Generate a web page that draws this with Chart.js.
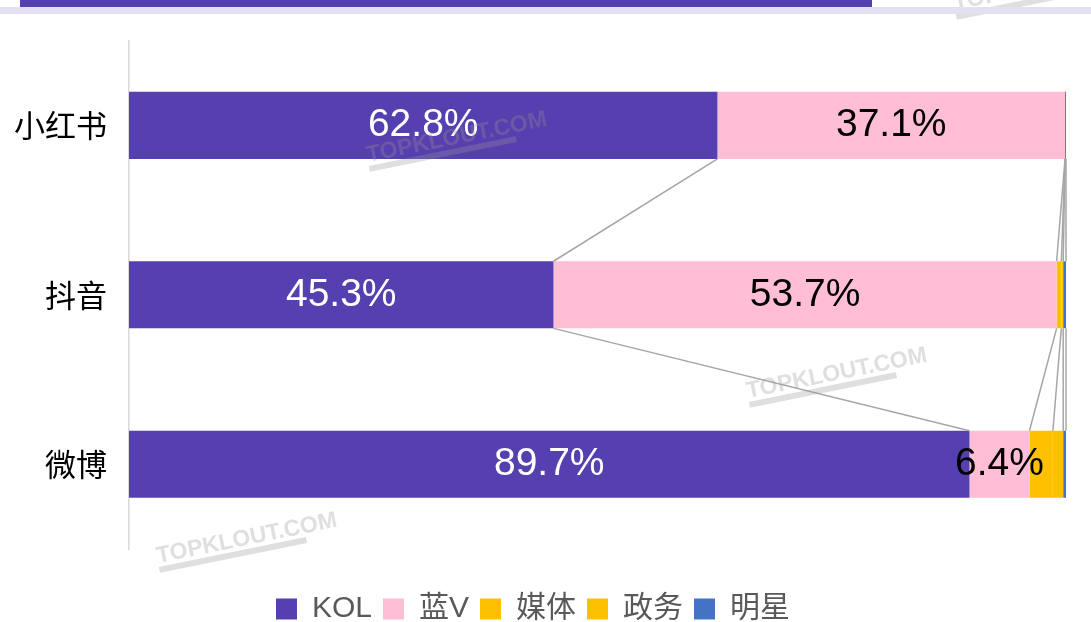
<!DOCTYPE html>
<html>
<head>
<meta charset="utf-8">
<script src="https://cdn.jsdelivr.net/npm/chart.js@4.4.1/dist/chart.umd.min.js"></script>
<style>
  html, body { margin: 0; padding: 0; background: #fff; overflow: hidden; }
  #wrap { position: relative; width: 1091px; height: 634px; }
  #topband { position: absolute; left: 0; top: 7px; width: 1091px; height: 7px; background: #E3E0F3; z-index: 2; }
  #topbar { position: absolute; left: 20px; top: 0; width: 852px; height: 7px; background: #563FAE; z-index: 3; }
</style>
</head>
<body>
<div id="wrap">
  <div id="topband"></div>
  <div id="topbar"></div>
  <canvas id="c"></canvas>
</div>
<script>
const categories = ['小红书', '抖音', '微博'];
const seriesNames = ['KOL', '蓝V', '媒体', '政务', '明星'];
const kol   = [62.8, 45.3, 89.7];
const lanV  = [37.1, 53.7, 6.4];
const meiti = [0, 0.5, 2.5];
const zhengwu = [0, 0.2, 1.1];
const mingxing = [0.1, 0.3, 0.3];
const seriesColors = ['#563FAE', '#FFBDD6', '#FFC000', '#FFC000', '#4472C4'];
const labelColors = ['#FFFFFF', '#000000'];

const FONT = "'Liberation Sans', Arial, 'Noto Sans CJK SC', sans-serif";

const seriesLines = {
  id: 'seriesLines',
  afterDatasetsDraw(chart) {
    const ctx = chart.ctx;
    ctx.save();
    ctx.strokeStyle = '#A6A6A6';
    ctx.lineWidth = 1.5;
    chart.data.datasets.forEach((ds, di) => {
      const meta = chart.getDatasetMeta(di);
      for (let i = 0; i < meta.data.length - 1; i++) {
        const a = meta.data[i], b = meta.data[i + 1];
        ctx.beginPath();
        ctx.moveTo(a.x, a.y + a.height / 2);
        ctx.lineTo(b.x, b.y - b.height / 2);
        ctx.stroke();
      }
    });
    ctx.restore();
  }
};

const valueLabels = {
  id: 'valueLabels',
  afterDatasetsDraw(chart) {
    const ctx = chart.ctx;
    ctx.save();
    ctx.font = "39px " + FONT;
    ctx.textAlign = 'center';
    ctx.textBaseline = 'middle';
    [0, 1].forEach(di => {
      const meta = chart.getDatasetMeta(di);
      ctx.fillStyle = labelColors[di];
      meta.data.forEach((el, i) => {
        const v = chart.data.datasets[di].data[i];
        ctx.fillText(v.toFixed(1) + '%', (el.x + el.base) / 2, el.y);
      });
    });
    ctx.restore();
  }
};

const watermark = {
  id: 'watermark',
  afterDraw(chart) {
    const ctx = chart.ctx;
    const marks = [[368, 162], [748, 398], [158, 563], [955, 10]];
    ctx.save();
    marks.forEach(([x, y]) => {
      ctx.save();
      ctx.translate(x, y);
      ctx.rotate(-0.2);
      ctx.font = "bold 23px " + FONT;
      ctx.fillStyle = 'rgba(150,150,150,0.3)';
      ctx.textBaseline = 'alphabetic';
      ctx.fillText('TOPKLOUT.COM', 0, 0);
      ctx.fillRect(0, 4, 150, 6);
      ctx.restore();
    });
    ctx.restore();
  }
};

const datasets = [kol, lanV, meiti, zhengwu, mingxing].map((d, i) => ({
  label: seriesNames[i],
  data: d,
  backgroundColor: seriesColors[i],
  borderWidth: 0,
  barPercentage: 0.396,
  categoryPercentage: 1.0
}));

new Chart(document.getElementById('c'), {
  type: 'bar',
  data: { labels: categories, datasets },
  options: {
    indexAxis: 'y',
    responsive: true,
    maintainAspectRatio: false,
    animation: false,
    layout: { padding: { top: 40, right: 25, left: 0, bottom: 0 } },
    scales: {
      x: {
        stacked: true, min: 0, max: 100,
        display: true,
        ticks: { display: false },
        grid: { display: false, drawTicks: false },
        border: { display: false },
        afterFit(s) { s.height = 34; }
      },
      y: {
        stacked: true,
        grid: { display: false, drawTicks: false },
        border: { display: true, color: '#D9D9D9', width: 1.5 },
        ticks: { color: '#000000', font: { family: "'Noto Sans CJK SC', sans-serif", size: 31 }, padding: 22 },
        afterFit(s) { s.width = 129; }
      }
    },
    plugins: {
      legend: {
        position: 'bottom',
        labels: {
          color: '#595959',
          font: { family: FONT, size: 30 },
          boxWidth: 21, boxHeight: 21, padding: 11,
          generateLabels(chart) {
            return chart.data.datasets.map((ds, i) => ({
              text: ds.label, fillStyle: ds.backgroundColor, strokeStyle: ds.backgroundColor,
              lineWidth: 0, hidden: false, datasetIndex: i, fontColor: '#595959'
            }));
          }
        }
      },
      tooltip: { enabled: false }
    }
  },
  plugins: [seriesLines, valueLabels, watermark]
});
</script>
</body>
</html>
